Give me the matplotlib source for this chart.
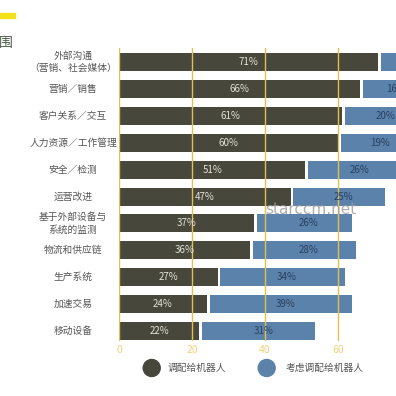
import matplotlib
matplotlib.use("Agg")
import matplotlib.pyplot as plt
from matplotlib.lines import Line2D
import matplotlib.transforms as mtransforms

plt.rcParams['font.family'] = ['Noto Sans CJK SC', 'DejaVu Sans']

categories = ["外部沟通\n（营销、社会媒体）", "营销／销售", "客户关系／交互", "人力资源／工作管理",
              "安全／检测", "运营改进", "基于外部设备与\n系统的监测", "物流和供应链",
              "生产系统", "加速交易", "移动设备"]
deployed = [71, 66, 61, 60, 51, 47, 37, 36, 27, 24, 22]
considering = [12, 16, 20, 19, 26, 25, 26, 28, 34, 39, 31]
xticks = [0, 20, 40, 60]
legend_labels = ["调配给机器人", "考虑调配给机器人"]

dark = "#48473b"
blue = "#5b82aa"
gold = "#e2c04e"

W = 396
fig = plt.figure(figsize=(3.96, 3.96), dpi=100)
left_px, top_px, bot_px = 119, 48, 341
ax = fig.add_axes([left_px / W, 1 - bot_px / W, 1 - left_px / W, (bot_px - top_px) / W])

ypos = list(range(len(categories)))
gap = 0.8
ax.barh(ypos, deployed, height=0.67, color=dark, zorder=2)
ax.barh(ypos, considering, left=[d + gap for d in deployed], height=0.67, color=blue, zorder=2)

for y, d, c in zip(ypos, deployed, considering):
    ax.text(d / 2, y, f"{d}%", ha="center", va="center", color="#e4e2d8", fontsize=7, zorder=4)
    ax.text(d + gap + c / 2 + 1.2, y, f"{c}%", ha="center", va="center", color="#27405f", fontsize=7, zorder=4)

ax.set_xlim(0, (W - left_px) / 3.65)
ax.set_ylim(10.37, -0.52)
for x in xticks:
    ax.axvline(x, color=gold, lw=1.0, zorder=3)

ax.set_xticks(xticks)
ax.set_xticklabels([str(x) for x in xticks], color="#efd27a", fontsize=7.5)
ax.tick_params(axis="x", length=0, pad=3)
ax.set_yticks([])
for s in ax.spines.values():
    s.set_visible(False)

trans = mtransforms.blended_transform_factory(fig.transFigure, ax.transData)
for y, cat in zip(ypos, categories):
    fig.text(73 / W, y, cat, transform=trans, ha="center", va="center",
             fontsize=7, color="#555555", linespacing=1.25)

# legend
fig.patches.append(plt.Circle((151.7 / W, 1 - 368 / W), 8.5 / W, transform=fig.transFigure,
                              color=dark, figure=fig))
fig.patches.append(plt.Circle((266.7 / W, 1 - 368 / W), 8.5 / W, transform=fig.transFigure,
                              color=blue, figure=fig))
fig.text(168 / W, 1 - 368 / W, legend_labels[0], ha="left", va="center", fontsize=7, color="#555555")
fig.text(286 / W, 1 - 368 / W, legend_labels[1], ha="left", va="center", fontsize=7, color="#555555")

# top-left fragments
fig.patches.append(plt.Rectangle((0, 1 - 18 / W), 15 / W, 5 / W, transform=fig.transFigure,
                                 color="#f5e11a", figure=fig))
fig.text(13 / W, 1 - 43 / W, "围", ha="right", va="center", fontsize=10, color="#4a5a48")

# watermark
fig.text(311 / W, 1 - 210 / W, "starccm.net", ha="center", va="center", fontsize=11,
         color="#9a9a9a", alpha=0.8, family="DejaVu Sans")

fig.savefig("out.png", dpi=100)
